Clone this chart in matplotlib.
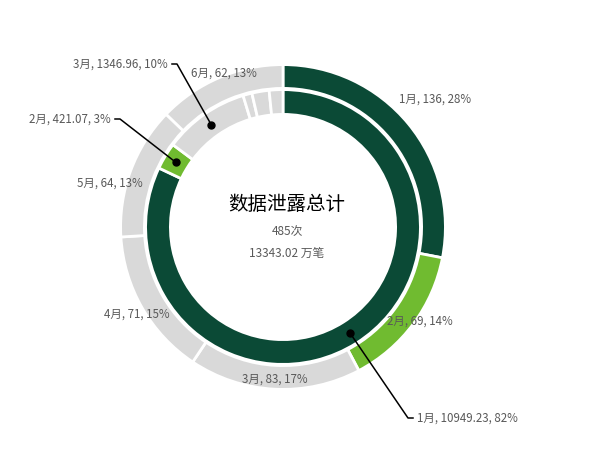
import numpy as np
import matplotlib
matplotlib.use("Agg")
import matplotlib.pyplot as plt

plt.rcParams['font.family'] = ['Noto Sans CJK SC', 'DejaVu Sans']

months = ['1月', '2月', '3月', '4月', '5月', '6月']
counts = [136, 69, 83, 71, 64, 62]            # 泄露次数 (outer ring)
records = [10949.23, 421.07, 1346.96, 140.5, 270.3, 214.96]  # 万笔 (inner ring)
count_pct = ['28%', '14%', '17%', '15%', '13%', '13%']
record_pct = ['82%', '3%', '10%']

title = '数据泄露总计'
total_count = '485次'
total_records = '13343.02 万笔'

dark = '#0B4A36'
light = '#70BB30'
grey = '#D9D9D9'
colors = [dark, light, grey, grey, grey, grey]

W, H = 592, 465
fig = plt.figure(figsize=(W / 100, H / 100), dpi=100)
ax = fig.add_axes([0, 0, 1, 1])

cx, cy = 283, H - 227
r_out, w_out = 162.4, 23.8
r_in, w_in = 137.4, 24.8
edge = dict(edgecolor='white', linewidth=2.0)

ax.pie(counts, radius=r_out, center=(cx, cy), colors=colors, startangle=90,
       counterclock=False, wedgeprops=dict(width=w_out, **edge))
ax.pie(records, radius=r_in, center=(cx, cy), colors=colors, startangle=90,
       counterclock=False, wedgeprops=dict(width=w_in, **edge))
ax.set_xlim(0, W)
ax.set_ylim(0, H)
ax.axis('off')


def point(deg, r):
    a = np.deg2rad(deg)
    return cx + r * np.sin(a), cy + r * np.cos(a)


def mid_angles(vals):
    v = np.array(vals, dtype=float)
    c = np.cumsum(v) / v.sum()
    return (c - v / v.sum() / 2) * 360


txt_col = '#595959'

# outer ring labels (offsets from centre, pixels, y up)
outer_off = [(152, 128), (137, -94), (-8, -152), (-146, -87), (-173, 44), (-59, 154)]
for m, c, p, (dx, dy) in zip(months, counts, count_pct, outer_off):
    ax.text(cx + dx, cy + dy, f'{m}, {c}, {p}', ha='center', va='center',
            fontsize=8.3, color=txt_col)

# inner ring labels with leader lines
inner_mid = mid_angles(records)
elbows = [(125, -191), (-163, 108), (-106, 163)]
for i in range(3):
    x0, y0 = point(inner_mid[i], r_in - w_in / 2)
    ex, ey = cx + elbows[i][0], cy + elbows[i][1]
    side = 1 if elbows[i][0] > 0 else -1
    hx = ex + side * 5
    ax.plot([x0, ex, hx], [y0, ey, ey], color='black', lw=1.1)
    ax.plot(x0, y0, 'o', color='black', ms=5)
    ax.text(hx + side * 4, ey, f'{months[i]}, {records[i]:.2f}, {record_pct[i]}',
            ha='left' if side > 0 else 'right', va='center', fontsize=8.3, color=txt_col)

tx = cx + 4
ax.text(tx, cy + 22, title, ha='center', va='center', fontsize=14, color='black')
ax.text(tx, cy - 5, total_count, ha='center', va='center', fontsize=8.5, color=txt_col)
ax.text(tx, cy - 26, total_records, ha='center', va='center', fontsize=8.5, color=txt_col)

fig.savefig('out.png', dpi=100)
